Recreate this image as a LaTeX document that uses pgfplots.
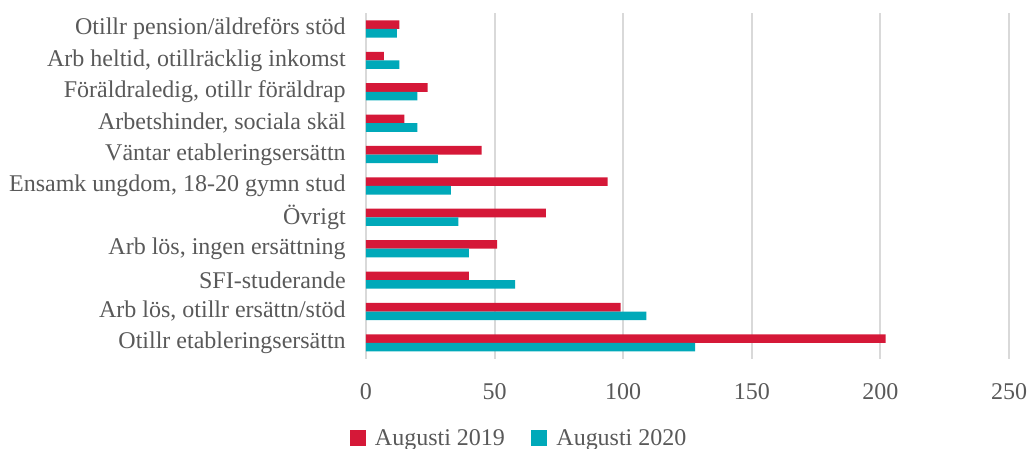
\documentclass[border=0pt]{standalone}
\usepackage{pgfplots}
\pgfplotsset{compat=1.18}
\usepackage{fontspec}
\setmainfont{Liberation Serif}
\definecolor{barred}{HTML}{D51838}
\definecolor{barteal}{HTML}{00A9B9}
\definecolor{txtgray}{HTML}{595959}
\definecolor{gridgray}{HTML}{D9D9D9}

\begin{document}
\fontsize{24bp}{28bp}\selectfont
\begin{tikzpicture}
\path[use as bounding box] (-366bp,-89.5bp) rectangle (663.3bp,358.7bp);
\begin{axis}[
    at={(0,0)}, anchor=south west,
    scale only axis,
    width=643.3bp, height=345.4bp,
    xbar, bar width=8.6bp,
    xmin=0, xmax=250,
    ymin=-0.5, ymax=10.5,
    xtick={0,50,...,250},
    ytick={0,...,10},
    yticklabels={
        {Otillr etableringsersättn},
        {Arb lös, otillr ersättn/stöd},
        {SFI-studerande},
        {Arb lös, ingen ersättning},
        {Övrigt},
        {Ensamk ungdom, 18-20 gymn stud},
        {Väntar etableringsersättn},
        {Arbetshinder, sociala skäl},
        {Föräldraledig, otillr föräldrap},
        {Arb heltid, otillräcklig inkomst},
        {Otillr pension/äldreförs stöd}},
    axis line style={draw=none},
    major tick length=0pt,
    xmajorgrids,
    major x grid style={gridgray, line width=2bp},
    tick label style={font=\fontsize{24bp}{28bp}\selectfont, text=txtgray, inner sep=0pt},
    /pgf/number format/assume math mode=true,
    xticklabel style={anchor=north, yshift=-25bp},
    yticklabel style={anchor=east, xshift=-20bp},
    legend style={at={(0.238,-0.235)}, anchor=center, draw=none, fill=none,
        inner sep=0pt, legend columns=2, text=txtgray,
        font=\fontsize{24bp}{28bp}\selectfont,
        /tikz/every odd column/.append style={column sep=7.5bp},
        /tikz/every even column/.append style={column sep=24bp}},
    legend image code/.code={\fill[#1, draw=none] (0bp,-6bp) rectangle (16bp,10bp);},
]

% Augusti 2019
\addplot[fill=barred, draw=none, bar shift=4.3bp]
coordinates {
    (202,0) (99,1) (40,2) (51,3) (70,4) (94,5)
    (45,6) (15,7) (24,8) (7,9) (13,10)
};
\addlegendentry{Augusti 2019}

% Augusti 2020
\addplot[fill=barteal, draw=none, bar shift=-4.3bp]
coordinates {
    (128,0) (109,1) (58,2) (40,3) (36,4) (33,5)
    (28,6) (20,7) (20,8) (13,9) (12,10)
};
\addlegendentry{Augusti 2020}

\end{axis}
\end{tikzpicture}
\end{document}
